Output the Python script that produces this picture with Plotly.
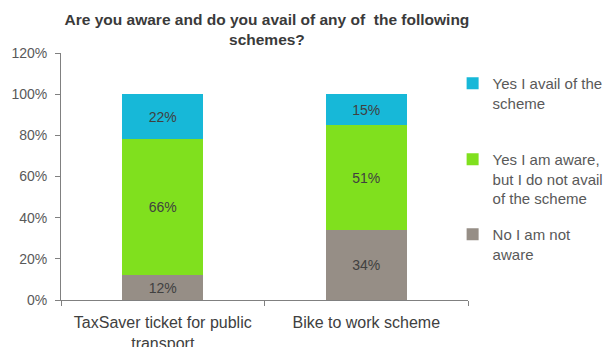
import plotly.graph_objects as go

categories = ["TaxSaver ticket for public<br>transport", "Bike to work scheme"]
series_names = ["No I am not<br>aware", "Yes I am aware,<br>but I do not avail<br>of the scheme", "Yes I avail of the<br>scheme"]
not_aware = [0.12, 0.34]
aware_not_avail = [0.66, 0.51]
avail = [0.22, 0.15]
colors = ["#968E86", "#80E01E", "#17B8D8"]
title_text = "Are you aware and do you avail of any of  the following<br>schemes?"
y_ticks = [0, 0.2, 0.4, 0.6, 0.8, 1.0, 1.2]

values = [not_aware, aware_not_avail, avail]
legend_ids = ["legend3", "legend2", "legend"]

fig = go.Figure()
for name, vals, col, lg in zip(series_names, values, colors, legend_ids):
    fig.add_trace(go.Bar(
        x=categories, y=vals, name=name,
        marker=dict(color=col, line=dict(width=0)),
        text=[f"{round(v*100)}%" for v in vals],
        textposition="inside", insidetextanchor="middle",
        textfont=dict(family="Liberation Sans, Arial, sans-serif", size=14, color="#404040"),
        textangle=0,
        legend=lg,
        hoverinfo="skip",
    ))

legend_common = dict(
    xref="container", yref="container", xanchor="left", yanchor="top",
    font=dict(family="Liberation Sans, Arial, sans-serif", size=15, color="#595959"),
    bgcolor="rgba(0,0,0,0)", valign="top", tracegroupgap=0,
)
fig.update_layout(
    width=610, height=347,
    margin=dict(l=61, r=142, t=53, b=47, autoexpand=False),
    paper_bgcolor="white", plot_bgcolor="white",
    barmode="stack", bargap=0.6,
    title=dict(text=title_text, xref="container", yref="container",
               x=(61 + 468) / 2 / 610 + 0.004, xanchor="center", y=1 - 25 / 347, yanchor="middle",
               font=dict(family="Liberation Sans, Arial, sans-serif", size=15.5,
                         color="#3a3a3a", weight="bold")),
    legend=dict(x=0.742, y=1 - 67 / 347, **legend_common),
    legend2=dict(x=0.742, y=1 - 143 / 347, **legend_common),
    legend3=dict(x=0.742, y=1 - 218 / 347, **legend_common),
    xaxis=dict(
        showline=True, linecolor="#808080", linewidth=1,
        ticks="outside", tickson="boundaries", ticklen=5, tickcolor="#808080",
        tickfont=dict(family="Liberation Sans, Arial, sans-serif", size=16, color="#404040"),
        showgrid=False, ticklabelstandoff=8,
    ),
    yaxis=dict(
        range=[0, 1.2], tickvals=y_ticks, tickformat=".0%",
        showline=True, linecolor="#808080", linewidth=1,
        ticks="outside", ticklen=5, tickcolor="#808080",
        tickfont=dict(family="Liberation Sans, Arial, sans-serif", size=14, color="#595959"),
        showgrid=False, zeroline=False, ticklabelstandoff=5,
    ),
    showlegend=True,
)

fig.write_html("out.html")
